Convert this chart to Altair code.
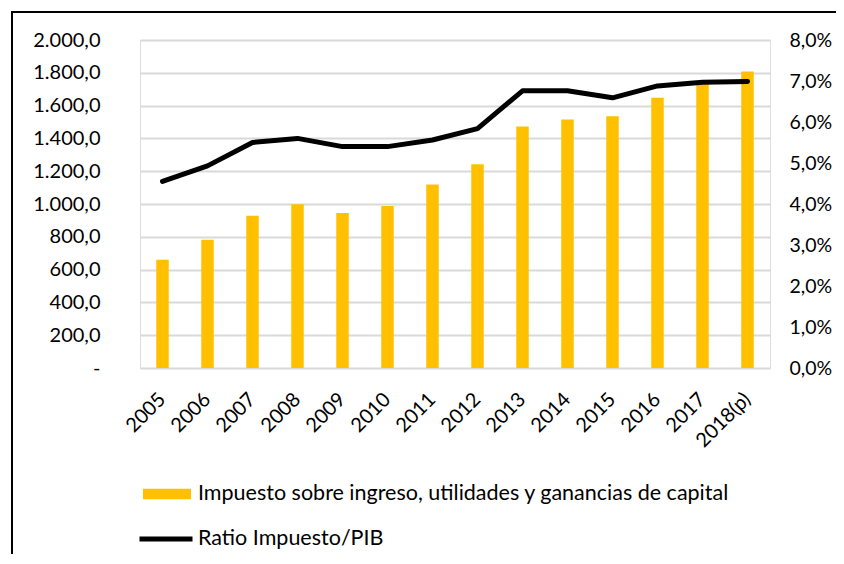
import altair as alt
import pandas as pd

years = ["2005", "2006", "2007", "2008", "2009", "2010", "2011",
         "2012", "2013", "2014", "2015", "2016", "2017", "2018(p)"]
impuesto = [660, 782, 929, 999, 945, 988, 1119,
            1242, 1473, 1515, 1535, 1648, 1745, 1808]
ratio = [0.0455, 0.0493, 0.0550, 0.0560, 0.0540, 0.0540, 0.0556,
         0.0584, 0.0676, 0.0676, 0.0659, 0.0688, 0.0697, 0.0699]

bar_label = "Impuesto sobre ingreso, utilidades y ganancias de capital"
line_label = "Ratio Impuesto/PIB"
left_ticks = [0, 200, 400, 600, 800, 1000, 1200, 1400, 1600, 1800, 2000]
right_ticks = [0, 0.01, 0.02, 0.03, 0.04, 0.05, 0.06, 0.07, 0.08]

df = pd.DataFrame({
    "year": years,
    "impuesto": impuesto,
    "ratio": ratio,
    "s_bar": [bar_label] * len(years),
    "s_line": [line_label] * len(years),
})

FONT = "Lato"
FS = 20
LFS = 21.5

x_enc = alt.X(
    "year:N", sort=years, title=None,
    scale=alt.Scale(paddingInner=0, paddingOuter=0),
    axis=alt.Axis(labelAngle=-45, labelAlign="right", labelBaseline="middle",
                  labelPadding=28, ticks=False, tickSize=0, domain=False,
                  grid=False, labelFont=FONT, labelFontSize=FS,
                  labelColor="#000000"),
)

bars = alt.Chart(df).mark_bar(size=12.5).encode(
    x=x_enc,
    y=alt.Y("impuesto:Q", title=None,
            scale=alt.Scale(domain=[0, 2000], nice=False),
            axis=alt.Axis(values=left_ticks, orient="left", grid=True,
                          gridColor="#d9d9d9", gridWidth=1.8,
                          domain=False, ticks=False, tickSize=0,
                          labelPadding=40, labelFont=FONT, labelFontSize=FS,
                          labelColor="#000000",
                          labelExpr="datum.value == 0 ? '-\u00a0\u00a0\u00a0\u00a0\u00a0' : replace(replace(replace(format(datum.value, ',.1f'), ',', '_'), '.', ','), '_', '.')")),
    color=alt.Color("s_bar:N", title=None,
                    scale=alt.Scale(domain=[bar_label], range=["#FFC000"]),
                    legend=alt.Legend(orient="none", legendX=3, legendY=430,
                                      symbolType="M-1,-0.22H1V0.22H-1Z",
                                      symbolSize=2304, symbolStrokeWidth=0,
                                      labelOffset=7, labelFont=FONT,
                                      labelFontSize=LFS, labelColor="#000000",
                                      labelLimit=800, padding=0, offset=0)),
)

line = alt.Chart(df).mark_line(strokeWidth=5, strokeCap="round",
                               strokeJoin="round").encode(
    x=alt.X("year:N", sort=years),
    y=alt.Y("ratio:Q", title=None,
            scale=alt.Scale(domain=[0, 0.08], nice=False),
            axis=alt.Axis(values=right_ticks, orient="right", grid=False,
                          domain=False, ticks=False, tickSize=0,
                          labelPadding=19, labelFont=FONT, labelFontSize=19.5,
                          labelColor="#000000",
                          labelExpr="replace(format(datum.value, '.1%'), '.', ',')")),
    stroke=alt.Stroke("s_line:N", title=None,
                      scale=alt.Scale(domain=[line_label], range=["#000000"]),
                      legend=alt.Legend(orient="none", legendX=-3, legendY=470,
                                        symbolType="stroke", symbolSize=2809,
                                        symbolStrokeWidth=5,
                                        labelOffset=3, labelFont=FONT,
                                        labelFontSize=LFS, labelColor="#000000",
                                        labelLimit=800, padding=0, offset=0)),
)

frame_df = pd.DataFrame({"k": [0]})
frame_left = alt.Chart(frame_df).mark_rule(color="#000000", strokeWidth=2).encode(
    x=alt.value(-128), y=alt.value(-28), y2=alt.value(540))
frame_top = alt.Chart(frame_df).mark_rule(color="#000000", strokeWidth=2).encode(
    x=alt.value(-129), x2=alt.value(720), y=alt.value(-28))

chart = alt.layer(bars, line, frame_left, frame_top).resolve_scale(
    y="independent", color="independent", stroke="independent"
).resolve_legend(color="independent", stroke="independent").properties(
    width=630, height=328,
    autosize=alt.AutoSizeParams(type="none"),
    padding={"left": 132, "top": 32, "right": 66, "bottom": 186},
).configure_view(stroke=None).configure(background="#ffffff")

chart.save("out.html", embed_options={"renderer": "svg", "actions": False})
